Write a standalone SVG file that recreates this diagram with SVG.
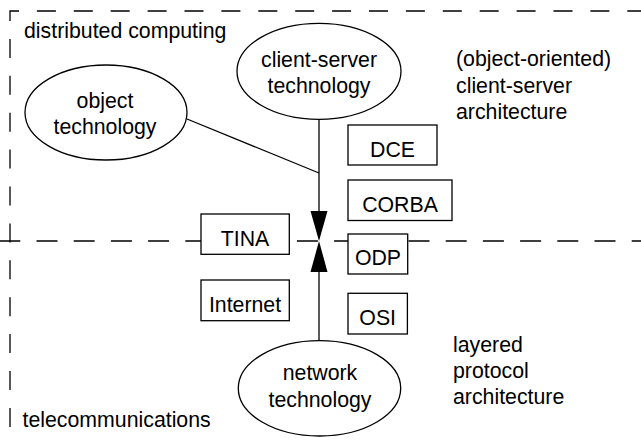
<svg xmlns="http://www.w3.org/2000/svg" width="641" height="444" viewBox="0 0 641 444">
<style>
text{font-family:"Liberation Sans",Arial,sans-serif;font-size:21.3px;fill:#000}
.c{text-anchor:middle}
.n{fill:#fff;stroke:#000;stroke-width:1.3}
.l{fill:none;stroke:#000;stroke-width:1.3}
.d{fill:none;stroke:#000;stroke-width:1.3}
</style>
<rect width="641" height="444" fill="#fff"/>
<g id="regions">
<path class="d" d="M10,444 V11 H641" stroke-dasharray="19 17.9" stroke-dashoffset="19.8"/>
<path class="d" d="M0,241 H641" stroke-dasharray="21 16.2" stroke-dashoffset="0.7"/>
<text x="24" y="38">distributed computing</text>
<text x="22.5" y="427">telecommunications</text>
<text x="456" y="66">(object-oriented)</text>
<text x="456" y="92.5">client-server</text>
<text x="456" y="119">architecture</text>
<text x="453" y="351.5">layered</text>
<text x="453" y="377.5">protocol</text>
<text x="453" y="403.5">architecture</text>
</g>
<g id="connectors">
<line class="l" x1="187" y1="119" x2="319" y2="173"/>
<line class="l" x1="319" y1="119" x2="319" y2="212"/>
<line class="l" x1="319" y1="271" x2="319" y2="341"/>
<polygon points="310.5,211 327.5,211 319,241" fill="#000"/>
<polygon points="319,241 310.5,272 327.5,272" fill="#000"/>
</g>
<g id="client-server">
<ellipse class="n" cx="319" cy="71.3" rx="82" ry="48"/>
<text class="c" x="319" y="66.5">client-server</text>
<text class="c" x="319" y="92.5">technology</text>
</g>
<g id="object">
<ellipse class="n" cx="106" cy="112.5" rx="81" ry="47.5"/>
<text class="c" x="105" y="108.3">object</text>
<text class="c" x="105" y="134">technology</text>
</g>
<g id="network">
<ellipse class="n" cx="319.5" cy="388.3" rx="81.2" ry="47.7"/>
<text class="c" x="320" y="380">network</text>
<text class="c" x="320" y="406.5">technology</text>
</g>
<g id="DCE"><rect class="n" x="348" y="125" width="89" height="40"/><text class="c" x="392.5" y="157">DCE</text></g>
<g id="CORBA"><rect class="n" x="348" y="180" width="104" height="40.5"/><text class="c" x="400" y="212.3">CORBA</text></g>
<g id="TINA"><rect class="n" x="201" y="214" width="88.3" height="40.3"/><text class="c" x="245" y="245.7">TINA</text></g>
<g id="ODP"><rect class="n" x="348" y="234" width="59.7" height="40"/><text class="c" x="378" y="265">ODP</text></g>
<g id="Internet"><rect class="n" x="201" y="280" width="88.3" height="40.7"/><text class="c" x="245" y="311.7">Internet</text></g>
<g id="OSI"><rect class="n" x="348" y="293.3" width="59.4" height="40.7"/><text class="c" x="377.7" y="325">OSI</text></g>
</svg>
